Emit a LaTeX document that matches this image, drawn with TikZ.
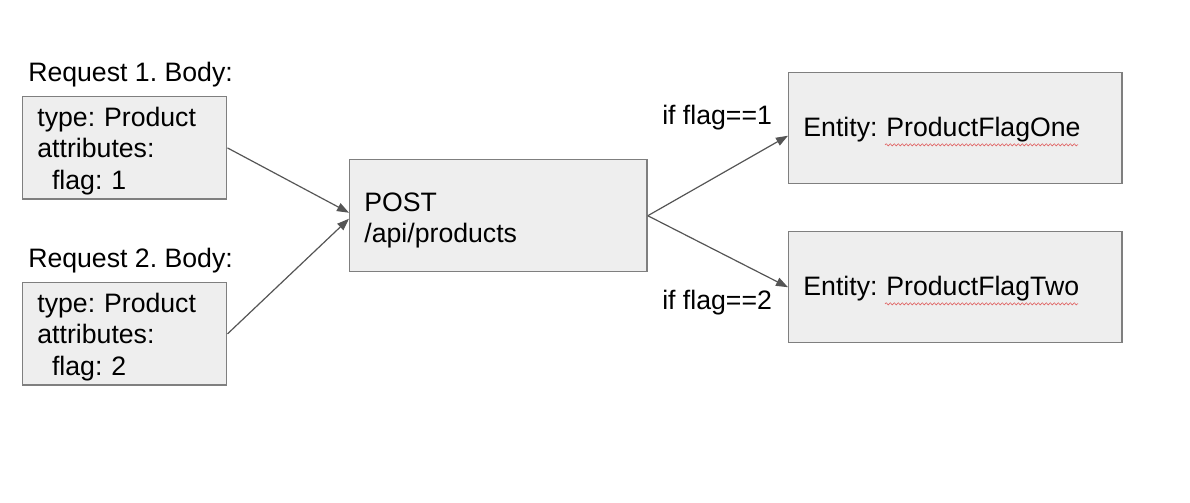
\documentclass[tikz,border=0pt]{standalone}
\usepackage{fontspec}
\setmainfont{Liberation Sans}
\usetikzlibrary{arrows.meta,calc,decorations.pathmorphing}
\definecolor{boxfill}{HTML}{EEEEEE}
\definecolor{boxline}{HTML}{7F7F7F}
\definecolor{arrowgray}{HTML}{555555}
\definecolor{spellred}{HTML}{E06666}
\frenchspacing
% strut on the first line, pushes the text block a little down
\newcommand{\firstline}[1]{\rule{0pt}{#1}}
\tikzset{
	body/.style={draw=boxline,line width=1.1pt,fill=boxfill,anchor=north west,align=left,
		inner xsep=11pt,font=\fontsize{20}{23.6}\selectfont},
	caption/.style={anchor=base west,inner sep=0pt,font=\fontsize{20}{23.6}\selectfont},
	link/.style={draw=arrowgray,line width=0.9pt,-{Triangle[length=9pt,width=6.5pt]}},
	wavy/.style={draw=spellred,line width=0.5pt,decorate,
		decoration={snake,amplitude=0.8pt,segment length=3pt}}
}
\begin{document}
\begin{tikzpicture}[x=0.75pt,y=-0.75pt]
		\useasboundingbox (0,0) rectangle (1190,503);
		\node [body,text width=131pt,minimum height=75.75pt] (req1) at (22,96)
			{\firstline{18.75pt}type: Product\\attributes:\\\hspace*{11pt}flag: 1};
		\node [body,text width=131pt,minimum height=76.5pt] (req2) at (22,282)
			{\firstline{18.75pt}type: Product\\attributes:\\\hspace*{11pt}flag: 2};
		\node [body,text width=201pt,minimum height=84pt] (post) at (349,159)
			{\firstline{21pt}POST\\/api/products};
		\node [body,text width=228pt,minimum height=83.25pt] (ent1) at (788,72)
			{\firstline{17pt}Entity: ProductFlagOne};
		\node [body,text width=228pt,minimum height=83.25pt] (ent2) at (788,231)
			{\firstline{17pt}Entity: ProductFlagTwo};
		\node [caption] (cap1) at (28,82) {Request 1. Body:};
		\node [caption] (cap2) at (28,267) {Request 2. Body:};
		\node [caption] (cond1) at (662,125) {if flag==1};
		\node [caption] (cond2) at (662,309) {if flag==2};
		\draw [link] (req1.east) -- ($(post.west)+(0,-3)$);
		\draw [link] (req2.east) -- ($(post.west)+(0,3)$);
		\draw [link] (post.east) -- ($(ent1.west)+(0,7.5)$);
		\draw [link] (post.east) -- (ent2.west);
		\draw [wavy] ($(ent1.base west)+(97,8)$) -- ($(ent1.base west)+(290,8)$);
		\draw [wavy] ($(ent2.base west)+(97,8)$) -- ($(ent2.base west)+(290,8)$);
	\end{tikzpicture}
\end{document}
